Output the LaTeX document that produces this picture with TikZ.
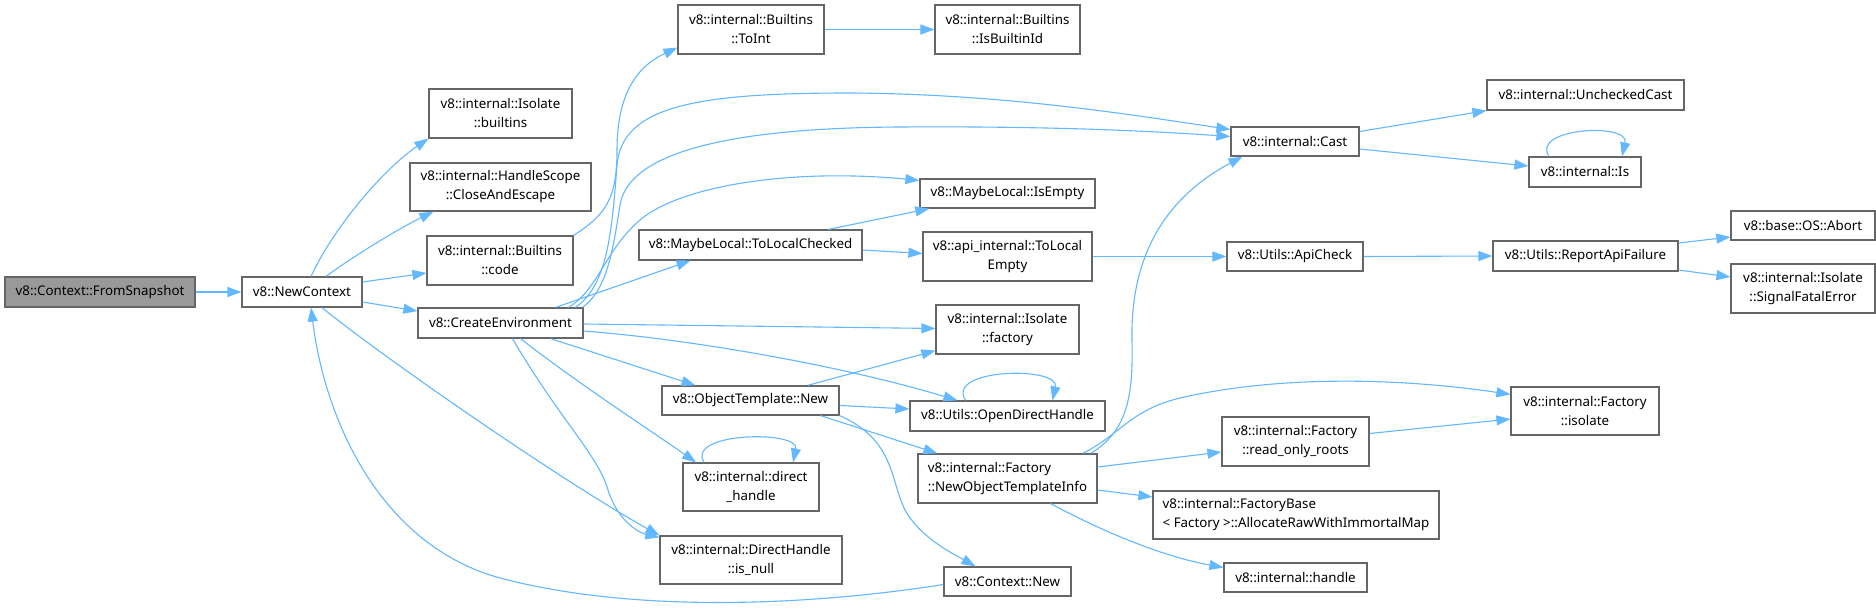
\documentclass[tikz,border=0pt]{standalone}
\usepackage{fontspec}
\setmainfont{Noto Sans}
\usetikzlibrary{arrows.meta}
\definecolor{edgeblue}{HTML}{63B8FF}
\definecolor{boxborder}{HTML}{666666}
\definecolor{rootfill}{HTML}{999999}
\begin{document}
\begin{tikzpicture}[x=1pt,y=-1pt,
  box/.style={draw=boxborder, line width=1.2pt, fill=white, inner sep=0pt,
    font=\fontsize{13.33pt}{19pt}\selectfont, align=center},
  leftbox/.style={box, align=left},
  rootbox/.style={box, fill=rootfill},
  wh/.style 2 args={minimum width=#1pt, minimum height=#2pt},
  edge/.style={draw=edgeblue, line width=1.1pt, -{Triangle[length=14pt,width=10pt]}},
]
\useasboundingbox (0,0) rectangle (1876,615);
\fill[white] (0,0) rectangle (1876,615);

% nodes
\node[rootbox, wh={190}{30}] (snap) at (100,292) {v8::Context::FromSnapshot};
\node[box, wh={120}{30}] (newctx) at (302,292) {v8::NewContext};
\node[box, wh={143}{49}] (isobuilt) at (500.5,113.5) {v8::internal::Isolate\\::builtins};
\node[box, wh={181}{48}] (hscope) at (500.5,187) {v8::internal::HandleScope\\::CloseAndEscape};
\node[box, wh={146}{49}] (bcode) at (500,260.5) {v8::internal::Builtins\\::code};
\node[box, wh={165}{30}] (createenv) at (500.5,323) {v8::CreateEnvironment};
\node[box, wh={146}{49}] (toint) at (751,29.5) {v8::internal::Builtins\\::ToInt};
\node[box, wh={145}{49}] (isbid) at (1007.5,29.5) {v8::internal::Builtins\\::IsBuiltinId};
\node[box, wh={128}{29}] (cast) at (1295,141.5) {v8::internal::Cast};
\node[box, wh={197}{30}] (unchecked) at (1585.5,95) {v8::internal::UncheckedCast};
\node[box, wh={112}{30}] (is) at (1585,172) {v8::internal::Is};
\node[box, wh={175}{29}] (isempty) at (1007.5,193.5) {v8::MaybeLocal::IsEmpty};
\node[box, wh={223}{30}] (tolocalchecked) at (750.5,245) {v8::MaybeLocal::ToLocalChecked};
\node[box, wh={169}{49}] (tolocalempty) at (1007.5,256.5) {v8::api\_internal::ToLocal\\Empty};
\node[box, wh={136}{29}] (apicheck) at (1295,256.5) {v8::Utils::ApiCheck};
\node[box, wh={185}{30}] (reportfail) at (1585.5,256) {v8::Utils::ReportApiFailure};
\node[box, wh={144}{29}] (abort) at (1803,225.5) {v8::base::OS::Abort};
\node[box, wh={144}{49}] (fatal) at (1803,288.5) {v8::internal::Isolate\\::SignalFatalError};
\node[box, wh={143}{49}] (isofactory) at (1007.5,329.5) {v8::internal::Isolate\\::factory};
\node[box, wh={177}{29}] (objnew) at (750.5,400.5) {v8::ObjectTemplate::New};
\node[box, wh={195}{30}] (opendh) at (1007.5,416) {v8::Utils::OpenDirectHandle};
\node[box, wh={136}{48}] (directh) at (751,487) {v8::internal::direct\\\_handle};
\node[box, wh={182}{48}] (isnull) at (751,560) {v8::internal::DirectHandle\\::is\_null};
\node[leftbox, wh={179}{49}] (newoti) at (1007.5,478.5) {v8::internal::Factory\\::NewObjectTemplateInfo};
\node[box, wh={147}{49}] (readonly) at (1295.5,441.5) {v8::internal::Factory\\::read\_only\_roots};
\node[box, wh={148}{48}] (fisolate) at (1585,411) {v8::internal::Factory\\::isolate};
\node[leftbox, wh={286}{48}] (allocraw) at (1296,515) {v8::internal::FactoryBase\\< Factory >::AllocateRawWithImmortalMap};
\node[box, wh={143}{29}] (handle) at (1295.5,577.5) {v8::internal::handle};
\node[box, wh={127}{29}] (ctxnew) at (1007.5,581.5) {v8::Context::New};

% edges
\draw[edge] (snap.east) -- (newctx.west);
\draw[edge] ([xshift=9pt]newctx.north) .. controls (335,225) and (385,168) .. (isobuilt.south west);
\draw[edge] ([xshift=24pt]newctx.north) .. controls (355,255) and (400,228) .. ([xshift=24pt]hscope.south west);
\draw[edge] ([yshift=10pt]newctx.east) -- ([yshift=-12.5pt]bcode.west);
\draw[edge] ([yshift=-10pt]newctx.east) -- ([yshift=12pt]createenv.west);
\draw[edge] ([xshift=20pt]newctx.south) .. controls (380,355) and (560,480) .. (isnull.north west);
\draw[edge] ([yshift=-3pt]ctxnew.west) .. controls (820,604) and (640,615) .. (500,578) .. controls (380,545) and (325,420) .. ([xshift=9pt]newctx.south);
\draw[edge] (bcode.north east) .. controls (605,215) and (617,200) .. (617,150) .. controls (617,90) and (640,65) .. ([yshift=7pt]toint.south west);
\draw[edge] ([xshift=75pt]createenv.north) .. controls (608,285) and (612,230) .. (617,165) .. controls (622,105) and (700,93) .. (850,93) .. controls (1000,94) and (1120,113) .. ([yshift=12pt]cast.west);
\draw[edge] ([xshift=82pt]createenv.north) .. controls (607,290) and (613,250) .. (620,205) .. controls (628,155) and (720,128) .. (900,127) .. controls (1050,126) and (1150,131) .. ([yshift=5pt]cast.west);
\draw[edge] ([xshift=68pt]createenv.north) .. controls (598,290) and (605,250) .. (640,220) .. controls (680,186) and (790,168) .. ([yshift=-2pt]isempty.north west);
\draw[edge] ([xshift=55pt]createenv.north) -- ([xshift=-60pt]tolocalchecked.south);
\draw[edge] ([yshift=-1pt]createenv.east) -- ([yshift=1pt]isofactory.west);
\draw[edge] ([yshift=-8pt]createenv.east) .. controls (700,340) and (850,368) .. ([xshift=48pt]opendh.north west);
\draw[edge] ([xshift=50pt]createenv.south) -- ([xshift=-55pt]objnew.north);
\draw[edge] ([xshift=20pt]createenv.south) .. controls (580,385) and (650,430) .. ([xshift=-55pt]directh.north);
\draw[edge] ([xshift=12pt]createenv.south) .. controls (560,420) and (598,455) .. (608,490) .. controls (618,522) and (640,533) .. ([yshift=-2pt]isnull.north west);
\draw[edge] (toint.east) -- (isbid.west);
\draw[edge] ([xshift=78pt]tolocalchecked.north) -- ([xshift=10pt]isempty.south west);
\draw[edge] ([yshift=-5pt]tolocalchecked.east) -- ([yshift=3pt]tolocalempty.west);
\draw[edge] (tolocalempty.east) -- (apicheck.west);
\draw[edge] (apicheck.east) -- (reportfail.west);
\draw[edge] ([yshift=13pt]reportfail.east) -- ([yshift=-11.5pt]abort.west);
\draw[edge] ([yshift=-14pt]reportfail.east) -- ([yshift=11.5pt]fatal.west);
\draw[edge] ([yshift=10pt]cast.east) -- (unchecked.south west);
\draw[edge] ([yshift=-7.5pt]cast.east) -- ([yshift=6pt]is.west);
\draw[edge] ([xshift=-36pt]is.north) .. controls (1530,128) and (1630,122) .. ([xshift=37pt]is.north);
\draw[edge] ([xshift=57pt]objnew.north) -- ([yshift=4pt]isofactory.south west);
\draw[edge] ([yshift=-5pt]objnew.east) -- ([yshift=7pt]opendh.west);
\draw[edge] ([xshift=70pt]objnew.south) -- ([xshift=20pt]newoti.north west);
\draw[edge] (objnew.south east) .. controls (895,440) and (890,480) .. (905,510) .. controls (920,537) and (950,552) .. ([xshift=-32pt]ctxnew.north);
\draw[edge] ([xshift=-42pt]opendh.north) .. controls (945,368) and (1060,366) .. ([xshift=45pt]opendh.north);
\draw[edge] ([xshift=-47pt]directh.north) .. controls (685,432) and (800,430) .. ([xshift=42pt]directh.north);
\draw[edge] ([xshift=-7pt]newoti.north east) .. controls (1130,430) and (1133,390) .. (1132,340) .. controls (1130,240) and (1180,190) .. ([xshift=12pt]cast.south west);
\draw[edge] ([xshift=75pt]newoti.north) .. controls (1120,435) and (1130,410) .. (1180,398) .. controls (1280,375) and (1400,378) .. ([yshift=-8pt]fisolate.north west);
\draw[edge] ([yshift=11.5pt]newoti.east) -- ([yshift=-10.5pt]readonly.west);
\draw[edge] ([yshift=-11.5pt]newoti.east) -- ([yshift=18pt]allocraw.west);
\draw[edge] ([xshift=43pt]newoti.south) .. controls (1100,530) and (1160,556) .. ([yshift=10pt]handle.west);
\draw[edge] ([yshift=8pt]readonly.east) -- ([yshift=-8pt]fisolate.west);
\end{tikzpicture}
\end{document}
